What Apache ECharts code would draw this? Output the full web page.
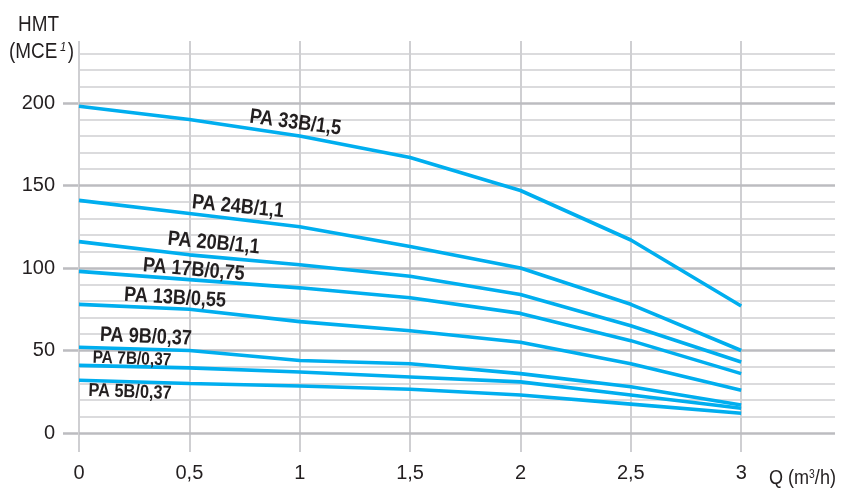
<!DOCTYPE html>
<html>
<head>
<meta charset="utf-8">
<script src="https://cdn.jsdelivr.net/npm/echarts@6/dist/echarts.min.js"></script>
<style>html,body{margin:0;padding:0;background:#fff}#c{width:842px;height:491px}</style>
</head>
<body>
<div id="c"></div>
<script>
// ---- data ----
const flowQ = [0, 0.5, 1, 1.5, 2, 2.5, 3];
const pa33B = [198, 190, 180, 167, 147, 117, 77];
const pa24B = [141, 133, 125, 113, 100, 78, 50];
const pa20B = [116, 108, 102, 95, 84, 65, 43];
const pa17B = [98, 93, 88, 82, 72.5, 56, 36];
const pa13B = [78, 75, 67.5, 62, 55, 42, 26];
const pa9B = [52, 50, 44, 42, 36, 28, 17];
const pa7B = [41, 39.5, 37, 34, 31, 23, 15];
const pa5B = [32, 30, 28.5, 26.5, 23, 17.5, 12];
const curveNames = ['PA 33B/1,5', 'PA 24B/1,1', 'PA 20B/1,1', 'PA 17B/0,75', 'PA 13B/0,55', 'PA 9B/0,37', 'PA 7B/0,37', 'PA 5B/0,37'];
const curveValues = [pa33B, pa24B, pa20B, pa17B, pa13B, pa9B, pa7B, pa5B];
const xTicks = [0, 0.5, 1, 1.5, 2, 2.5, 3];
const yTicks = [0, 50, 100, 150, 200];
const yMinorGrid = [10, 20, 30, 40, 60, 70, 80, 90, 110, 120, 130, 140, 160, 170, 180, 190, 210, 220, 230];

// ---- label placement (data space) and styling ----
const labelSpots = [
  { at: [0.98, 188], rot: -7.5, size: 21 },
  { at: [0.72, 137], rot: -5.5, size: 21 },
  { at: [0.61, 115], rot: -5.5, size: 21 },
  { at: [0.52, 98.8], rot: -5, size: 21 },
  { at: [0.435, 81.8], rot: -3.5, size: 21 },
  { at: [0.303, 58.2], rot: -2.5, size: 21 },
  { at: [0.24, 44.8], rot: -2, size: 18 },
  { at: [0.231, 24.8], rot: -2, size: 19 }
];
const LINE_BLUE = '#00aeef';
const GRID_MAJOR = '#bcbcc0';
const GRID_MINOR = '#cfcfd2';
const TXT = '#231f20';
const BASE_FONT = '"Liberation Sans", Arial, sans-serif';
const CONDENSE = 0.86;

const comma = v => String(v).replace('.', ',');

const gridLinesH = yMinorGrid.map(v => ({ yAxis: v, lineStyle: { color: GRID_MINOR, width: 1.5, type: 'solid' } }))
  .concat(yTicks.map(v => ({ yAxis: v, lineStyle: { color: GRID_MAJOR, width: 2.5, type: 'solid' } })));
const gridLinesV = xTicks.map(v => ({ xAxis: v, lineStyle: { color: GRID_MINOR, width: 2, type: 'solid' } }));

const series = [{
  type: 'line',
  data: [],
  silent: true,
  z: 1,
  markLine: {
    silent: true,
    symbol: 'none',
    label: { show: false },
    animation: false,
    data: gridLinesV.concat(gridLinesH)
  }
}];
curveNames.forEach((name, i) => {
  series.push({
    type: 'line',
    name: name,
    z: 10,
    data: flowQ.map((q, j) => [q, curveValues[i][j]]),
    symbol: 'none',
    lineStyle: { color: LINE_BLUE, width: 3.6 },
    animation: false
  });
});

const chart = echarts.init(document.getElementById('c'), null, { renderer: 'canvas' });
chart.setOption({
  animation: false,
  backgroundColor: '#fff',
  grid: { left: 79, right: 7, top: 41, bottom: 39, containLabel: false },
  xAxis: {
    type: 'value',
    min: 0,
    max: 3.425,
    interval: 0.5,
    axisLine: { show: false },
    axisTick: { show: false },
    splitLine: { show: false },
    axisLabel: {
      customValues: xTicks,
      formatter: v => comma(v),
      color: TXT,
      fontFamily: BASE_FONT,
      fontSize: 20,
      margin: 11
    }
  },
  yAxis: {
    type: 'value',
    min: -11.5,
    max: 237.6,
    axisLine: { show: false },
    splitLine: { show: false },
    axisTick: { show: true, customValues: yTicks, length: 16, inside: false, lineStyle: { color: GRID_MAJOR, width: 2.5 } },
    axisLabel: {
      customValues: yTicks,
      color: TXT,
      fontFamily: BASE_FONT,
      fontSize: 20,
      margin: 24
    }
  },
  series: series
});

// curve labels anchored in data space, converted through the chart's own axes
const graphics = [
  { type: 'text', x: 18, y: 14, scaleX: CONDENSE, style: { text: 'HMT', fill: TXT, font: '22px ' + BASE_FONT } },
  { type: 'text', x: 9, y: 41, scaleX: CONDENSE, style: { text: '(MCE{s|1})', fill: TXT, font: '22px ' + BASE_FONT,
    rich: { s: { fontSize: 13, fontStyle: 'italic', verticalAlign: 'top', padding: [0, 2, 8, 3], fill: TXT, fontFamily: BASE_FONT } } } },
  { type: 'text', x: 769, y: 468, scaleX: CONDENSE, style: { text: 'Q (m{s|3}/h)', fill: TXT, font: '21px ' + BASE_FONT,
    rich: { s: { fontSize: 12, padding: [0, 0, 8, 0], fill: TXT, fontFamily: BASE_FONT } } } }
];
curveNames.forEach((name, i) => {
  const spot = labelSpots[i];
  const p = chart.convertToPixel({ gridIndex: 0 }, spot.at);
  graphics.push({
    type: 'text',
    x: p[0],
    y: p[1],
    rotation: spot.rot * Math.PI / 180,
    scaleX: CONDENSE,
    z: 100,
    style: {
      text: name,
      fill: TXT,
      font: 'bold ' + spot.size + 'px ' + BASE_FONT,
      align: 'center',
      verticalAlign: 'middle'
    }
  });
});
chart.setOption({ graphic: graphics });
</script>
</body>
</html>
